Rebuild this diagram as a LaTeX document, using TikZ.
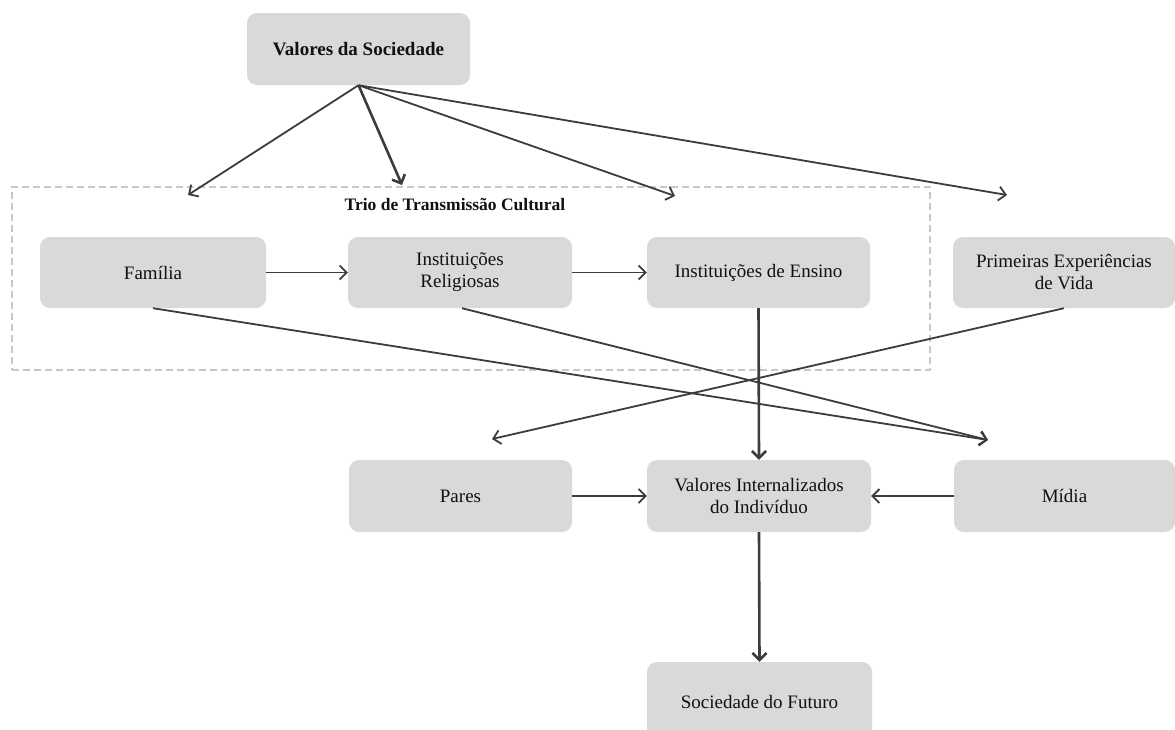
\documentclass[tikz,border=0pt]{standalone}
\usepackage{fontspec}
\setmainfont{Liberation Serif}
\usetikzlibrary{arrows.meta}
\definecolor{boxfill}{HTML}{D9D9D9}
\definecolor{linegray}{HTML}{3C3C3C}
\definecolor{dashgray}{HTML}{C8C8C8}
\definecolor{txt}{HTML}{111111}
\tikzset{
  box/.style={fill=boxfill, rounded corners=10pt, minimum width=223pt,
    minimum height=71pt, align=center, text=txt, inner sep=0pt,
    font=\fontsize{19}{22}\selectfont},
  headbox/.style={box, font=\bfseries\fontsize{19}{22}\selectfont},
  arr/.style={draw=linegray, line width=1.8pt,
    -{Straight Barb[length=7pt,width=14pt]}},
  arrb/.style={arr, line width=2.6pt},
  groupframe/.style={draw=dashgray, line width=1.8pt,
    dash pattern=on 7pt off 4pt, minimum width=918pt, minimum height=183pt,
    inner sep=0pt},
}
\begin{document}
\begin{tikzpicture}[x=1pt, y=-1pt]
  \useasboundingbox (0,0) rectangle (1175,729);
  \clip (0,0) rectangle (1175,729);

  % group frame and its caption
  \node[groupframe] (trio) at (471,278.5) {};
  \node[text=txt, font=\bfseries\fontsize{17.5}{20}\selectfont] (triolabel) at (455,205) {Trio de Transmissão Cultural};

  % boxes
  \node[headbox, minimum height=72pt] (val) at (358.5,49) {Valores da Sociedade};
  \node[box, minimum width=226pt] (fam) at (153,272.5) {Família};
  \node[box, minimum width=224pt] (rel) at (460,272.5) {Instituições\\Religiosas};
  \node[box] (ens) at (758.5,272.5) {Instituições de Ensino};
  \node[box, minimum width=222pt] (pri) at (1064,272.5) {Primeiras Experiências\\de Vida};
  \node[box, minimum height=72pt] (par) at (460.5,496) {Pares};
  \node[box, minimum width=224pt, minimum height=72pt] (int) at (759,496) {Valores Internalizados\\do Indivíduo};
  \node[box, minimum width=221pt, minimum height=72pt] (mid) at (1064.5,496) {Mídia};
  \node[box, minimum width=225pt, minimum height=80pt] (soc) at (759.5,702) {};
  \node[text=txt, font=\fontsize{19}{22}\selectfont] (soctext) at (759.5,702) {Sociedade do Futuro};

  % free arrow ends
  \coordinate (t1) at (188,195);
  \coordinate (t2) at (402,185);
  \coordinate (t3) at (675,196);
  \coordinate (t4) at (1007,195);
  \coordinate (tpar) at (492,439);
  \coordinate (tmid) at (988,440);

  % connectors from the top box
  \draw[arr]  (val.south) -- (t1);
  \draw[arrb] (val.south) -- (t2);
  \draw[arr]  (val.south) -- (t3);
  \draw[arr]  (val.south) -- (t4);

  % chain inside the group
  \draw[arr] (fam) -- (rel);
  \draw[arr] (rel) -- (ens);

  % crossing connectors
  \draw[arr] (fam.south) -- (tmid);
  \draw[arr] ([xshift=2pt]rel.south) -- (tmid);
  \draw[arr] (pri.south) -- (tpar);

  % into the individual and onwards
  \draw[arrb] (ens.south) -- (int.north);
  \draw[arr] (par) -- (int);
  \draw[arr] (mid) -- (int);
  \draw[arrb] (int.south) -- (soc.north);
\end{tikzpicture}
\end{document}
